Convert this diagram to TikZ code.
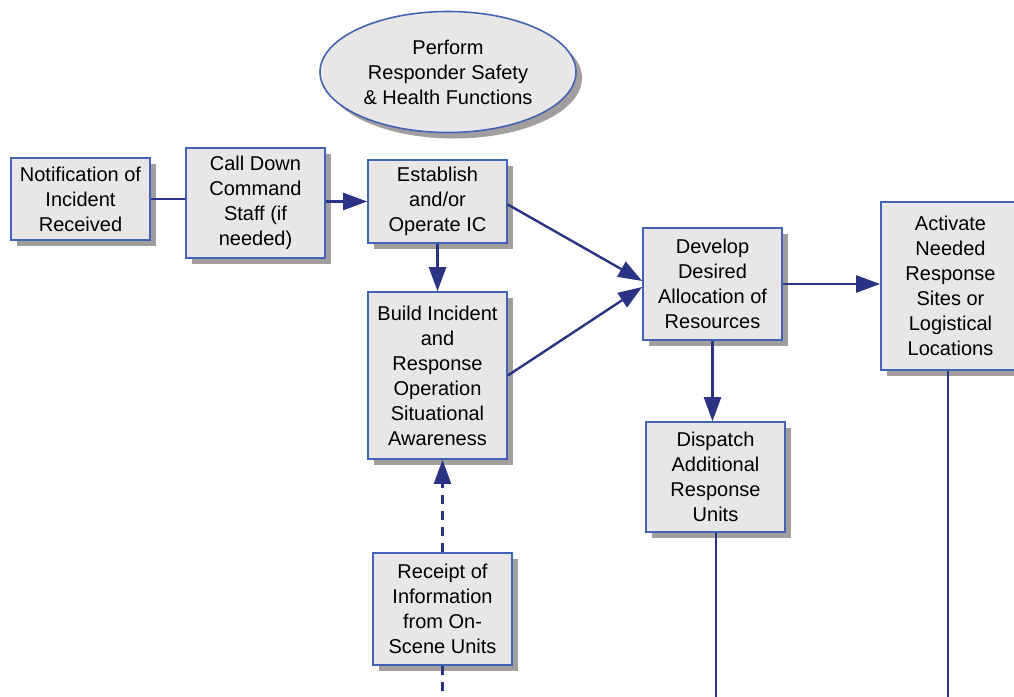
\documentclass[tikz,border=0pt]{standalone}
\usepackage{fontspec}
\setmainfont{Liberation Sans}
\usetikzlibrary{arrows.meta,shadows,shapes.geometric}
\definecolor{boxfill}{HTML}{E8E6E6}
\definecolor{boxline}{HTML}{4065B4}
\definecolor{shadowc}{HTML}{A29E9E}
\definecolor{arrowc}{HTML}{2A3384}
\begin{document}
\begin{tikzpicture}[x=1pt,y=-1pt,
  shad/.style={drop shadow={shadow xshift=6pt, shadow yshift=-6pt, fill=shadowc, opacity=1}},
  box/.style={draw=boxline, line width=1.6pt, fill=boxfill, align=center, inner sep=0pt,
    minimum width=139pt, shad, font=\fontsize{20}{25}\selectfont},
  oval/.style={ellipse, draw=boxline, line width=1.6pt, fill=boxfill, align=center, inner sep=0pt,
    minimum width=256pt, minimum height=121pt, shad, font=\fontsize{20}{25}\selectfont},
  conn/.style={draw=arrowc, line width=2.4pt},
  arr/.style={conn, -{Triangle[length=24pt,width=17pt]}},
  dconn/.style={conn, dash pattern=on 9pt off 7pt},
]
\fill[white] (0,0) rectangle (1014,696);
\useasboundingbox (0,0) rectangle (1014,696);

\node[oval] (e) at (448,72) {Perform\\Responder Safety\\\& Health Functions};
\node[box, minimum height=82pt] (n1) at (80.5,199) {Notification of\\Incident\\Received};
\node[box, minimum height=110pt] (n2) at (255.5,203) {Call Down\\Command\\Staff (if\\needed)};
\node[box, minimum height=83pt] (n3) at (437.5,201.5) {Establish\\and/or\\Operate IC};
\node[box, minimum height=167pt] (n4) at (437.5,375.5) {Build Incident\\and\\Response\\Operation\\Situational\\Awareness};
\node[box, minimum height=112pt] (n5) at (712.5,284) {Develop\\Desired\\Allocation of\\Resources};
\node[box, minimum height=168pt] (n6) at (950.5,286) {Activate\\Needed\\Response\\Sites or\\Logistical\\Locations};
\node[box, minimum height=110pt] (n7) at (715.5,477) {Dispatch\\Additional\\Response\\Units};
\node[box, minimum height=112pt] (n8) at (442.5,609) {Receipt of\\Information\\from On-\\Scene Units};

\coordinate (b7) at (716,700);
\coordinate (b6) at (948,700);
\coordinate (b8) at (442.5,700);

\draw[conn] (n1.east) -- (n1.east -| n2.west);
\draw[arr] (n3.west -| n2.east) -- (n3.west);
\draw[arr] (n3.south) -- (n4.north);
\draw[arr] ([yshift=-3pt]n3.east) -- ([yshift=3pt]n5.west);
\draw[arr] (n4.east) -- ([yshift=-3pt]n5.west);
\draw[arr] (n5.south) -- (n5.south |- n7.north);
\draw[arr] (n5.east) -- (n5.east -| n6.west);
\draw[conn] (n7.south -| b7) -- (b7);
\draw[conn] (n6.south -| b6) -- (b6);
\draw[dconn, -{Triangle[length=24pt,width=17pt]}] (n8.north) -- (n8.north |- n4.south);
\draw[dconn] (n8.south) -- (b8);
\end{tikzpicture}
\end{document}
